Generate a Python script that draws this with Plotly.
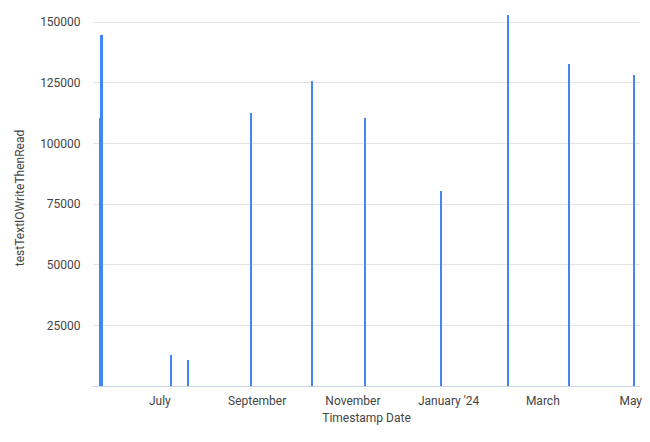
import plotly.graph_objects as go

dates = [
    "2023-05-24", "2023-05-25", "2023-07-08", "2023-07-19", "2023-08-28",
    "2023-10-06", "2023-11-09", "2023-12-27", "2024-02-08", "2024-03-18",
    "2024-04-28",
]
values = [
    110500, 144500, 12800, 10700, 112500,
    125800, 110500, 80500, 153000, 132800,
    128300,
]
# the last label sits a little left of May 1 so it stays inside the frame, like the original
tick_dates = ["2023-07-01", "2023-09-01", "2023-11-01", "2024-01-01", "2024-03-01", "2024-04-26"]
tick_labels = ["July", "September", "November", "January '24", "March", "May"]
y_ticks = [25000, 50000, 75000, 100000, 125000, 150000]

day_ms = 24 * 3600 * 1000

fig = go.Figure(
    go.Bar(
        x=dates,
        y=values,
        width=day_ms * 1.0,
        marker=dict(color="#4285F4", line=dict(width=0)),
    )
)

fig.update_layout(
    width=650,
    height=442,
    margin=dict(l=93, r=10, t=10, b=56),
    paper_bgcolor="white",
    plot_bgcolor="white",
    font=dict(family="Roboto", size=12, color="#444444"),
    showlegend=False,
    bargap=0,
)
fig.update_xaxes(
    type="date",
    automargin=False,
    range=["2023-05-19 10:00", "2024-05-01 22:00"],
    tickvals=tick_dates,
    ticktext=tick_labels,
    showgrid=False,
    showline=True,
    linecolor="#c6d4ea",
    linewidth=1,
    ticks="outside",
    ticklen=4,
    tickcolor="rgba(0,0,0,0)",
    title=dict(text="Timestamp Date", standoff=6, font=dict(size=12, color="#444444")),
)
fig.update_yaxes(
    automargin=False,
    range=[0, 155000],
    tickvals=y_ticks,
    tickformat="d",
    showgrid=True,
    gridcolor="#e3e3e3",
    zeroline=False,
    ticks="outside",
    ticklen=9,
    tickcolor="rgba(0,0,0,0)",
    title=dict(text="testTextIOWriteThenRead", standoff=12, font=dict(size=12, color="#444444")),
)

fig.write_html(
    "out.html",
    config={"displayModeBar": False},
    post_script="document.body.style.margin='0';",
)
